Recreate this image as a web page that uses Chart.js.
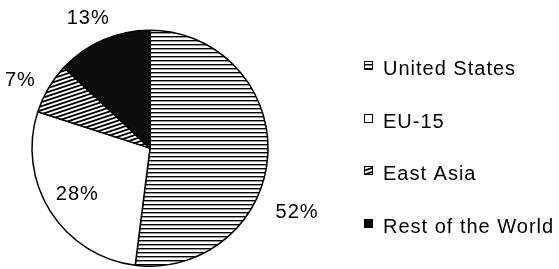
<!DOCTYPE html>
<html>
<head>
<meta charset="utf-8">
<script src="https://cdn.jsdelivr.net/npm/chart.js@4/dist/chart.umd.min.js"></script>
<style>
html,body{margin:0;padding:0;background:#fff;}
canvas{display:block;}
</style>
</head>
<body>
<canvas id="c" width="559" height="269"></canvas>
<script>
// ---- data ----
const categories = ['United States', 'EU-15', 'East Asia', 'Rest of the World'];
const shares = [52, 28, 7, 13];
const shareLabels = ['52%', '28%', '7%', '13%'];

// ---- label placement (styling, not data) ----
const labelRadiusFactor = [1.36, 0.73, 1.24, 1.22];
const labelAngleShift = [20, 0, -3, -2]; // degrees

const canvas = document.getElementById('c');
const ctx = canvas.getContext('2d');

function hStripe() {
  const c = document.createElement('canvas');
  c.width = 4; c.height = 4;
  const x = c.getContext('2d');
  x.fillStyle = '#fff'; x.fillRect(0, 0, 4, 4);
  x.fillStyle = '#000'; x.fillRect(0, 0, 4, 1.4);
  return ctx.createPattern(c, 'repeat');
}
function dStripe() {
  const c = document.createElement('canvas');
  c.width = 12; c.height = 4;
  const x = c.getContext('2d');
  x.fillStyle = '#fff'; x.fillRect(0, 0, 12, 4);
  x.strokeStyle = '#000'; x.lineWidth = 1.8;
  for (let k = -1; k <= 1; k++) {
    x.beginPath();
    x.moveTo(-1, 4 * k + 4 + 1 / 3);
    x.lineTo(13, 4 * k - 1 / 3);
    x.stroke();
  }
  return ctx.createPattern(c, 'repeat');
}
const fills = [hStripe(), '#ffffff', dStripe(), '#0d0d0d'];

const FONT = '20px "Liberation Sans", Arial, sans-serif';

const labelPlugin = {
  id: 'labels',
  afterDraw(chart) {
    const c = chart.ctx;
    const meta = chart.getDatasetMeta(0);
    c.save();
    c.font = FONT;
    try { c.letterSpacing = '1px'; } catch (e) {}
    c.fillStyle = '#000';
    c.textAlign = 'center';
    c.textBaseline = 'middle';
    meta.data.forEach((arc, i) => {
      const p = arc.getProps(['x', 'y', 'startAngle', 'endAngle', 'outerRadius'], true);
      const mid = (p.startAngle + p.endAngle) / 2 + labelAngleShift[i] * Math.PI / 180;
      const r = p.outerRadius * labelRadiusFactor[i];
      c.fillText(shareLabels[i], p.x + Math.cos(mid) * r, p.y + Math.sin(mid) * r);
    });
    c.restore();
  }
};

const legendPlugin = {
  id: 'sideLegend',
  afterDraw(chart) {
    const c = chart.ctx;
    const ds = chart.data.datasets[0];
    const boxX = 364, box = 9, textX = 383, firstBase = 75, step = 52.7;
    c.save();
    c.font = FONT;
    try { c.letterSpacing = '1px'; } catch (e) {}
    c.textAlign = 'left';
    c.textBaseline = 'alphabetic';
    chart.data.labels.forEach((lab, i) => {
      const base = firstBase + i * step;
      const top = Math.round(base - 14);
      c.fillStyle = ds.backgroundColor[i];
      c.fillRect(boxX, top, box, box);
      c.strokeStyle = '#000';
      c.lineWidth = 1;
      c.strokeRect(boxX + 0.5, top + 0.5, box - 1, box - 1);
      c.fillStyle = '#000';
      c.fillText(lab, textX, base);
    });
    c.restore();
  }
};

new Chart(canvas, {
  type: 'pie',
  data: {
    labels: categories,
    datasets: [{
      data: shares,
      backgroundColor: fills,
      borderColor: '#000',
      borderWidth: 1.5,
      borderAlign: 'center'
    }]
  },
  options: {
    responsive: false,
    animation: false,
    events: [],
    layout: { padding: { top: 29.4, bottom: 2.1, left: 31.25, right: 290.25 } },
    plugins: {
      legend: { display: false },
      tooltip: { enabled: false },
      title: { display: false }
    }
  },
  plugins: [labelPlugin, legendPlugin]
});
</script>
</body>
</html>
